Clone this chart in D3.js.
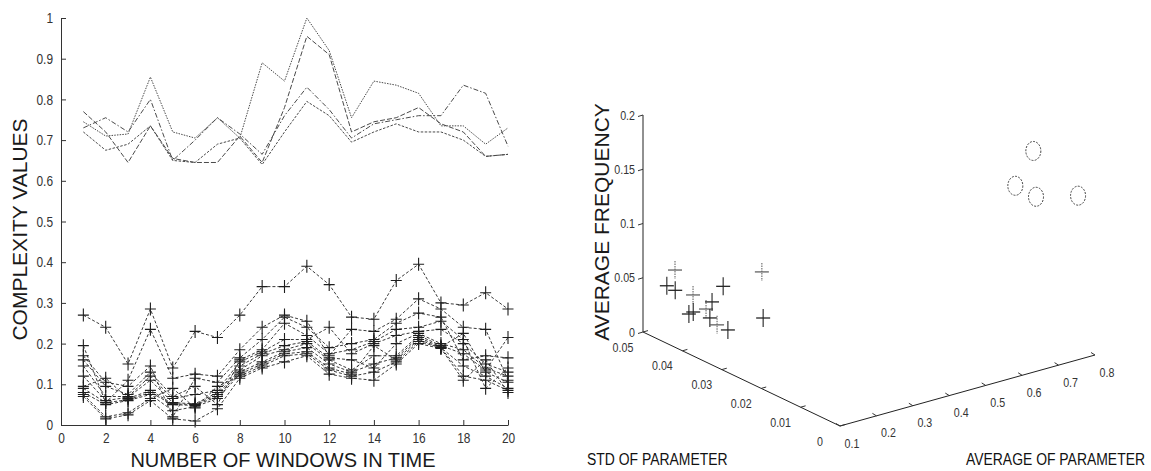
<!DOCTYPE html>
<html>
<head>
<meta charset="utf-8">
<script src="https://cdn.jsdelivr.net/npm/d3@7"></script>
<style>
  body { margin: 0; background: #fff; }
  svg { display: block; }
  .tick-label { font-family: "Liberation Sans", Arial, sans-serif; fill: #333; }
  .axis-title { font-family: "Liberation Sans", Arial, sans-serif; fill: #1a1a1a; }
</style>
</head>
<body>
<svg id="chart" width="1151" height="471"></svg>
<script>
// ---- left panel: complexity values per time window ----
const windows = [1,2,3,4,5,6,7,8,9,10,11,12,13,14,15,16,17,18,19,20];

// upper group (4 lines, no markers)
const upperA = [0.745,0.71,0.715,0.855,0.72,0.705,0.755,0.705,0.89,0.845,1.0,0.92,0.755,0.845,0.835,0.815,0.735,0.735,0.69,0.73];
const upperB = [0.77,0.72,0.645,0.735,0.655,0.645,0.645,0.71,0.645,0.78,0.955,0.91,0.72,0.745,0.755,0.78,0.74,0.72,0.66,0.665];
const upperC = [0.73,0.755,0.72,0.8,0.65,0.70,0.755,0.715,0.665,0.76,0.83,0.775,0.705,0.74,0.75,0.76,0.76,0.835,0.815,0.685];
const upperD = [0.72,0.675,0.69,0.735,0.65,0.645,0.69,0.705,0.64,0.72,0.795,0.76,0.695,0.72,0.74,0.72,0.72,0.70,0.66,0.665];

// lower group (11 lines with + markers)
const lowerA = [0.27,0.24,0.15,0.285,0.14,0.23,0.215,0.27,0.34,0.34,0.39,0.345,0.265,0.26,0.355,0.395,0.30,0.295,0.325,0.285];
const lowerB = [0.195,0.055,0.11,0.235,0.115,0.125,0.12,0.185,0.24,0.27,0.255,0.17,0.235,0.23,0.26,0.31,0.285,0.24,0.235,0.11];
const lowerC = [0.17,0.105,0.095,0.145,0.02,0.115,0.105,0.165,0.21,0.265,0.24,0.19,0.2,0.21,0.25,0.275,0.265,0.16,0.17,0.165];
const lowerD = [0.16,0.095,0.075,0.13,0.07,0.095,0.05,0.16,0.185,0.25,0.22,0.175,0.185,0.205,0.235,0.24,0.255,0.21,0.09,0.14];
const lowerE = [0.145,0.07,0.07,0.12,0.065,0.075,0.085,0.155,0.18,0.21,0.21,0.24,0.175,0.2,0.22,0.23,0.235,0.2,0.15,0.13];
const lowerF = [0.12,0.06,0.068,0.11,0.055,0.052,0.08,0.145,0.175,0.195,0.205,0.165,0.16,0.14,0.2,0.225,0.2,0.185,0.14,0.12];
const lowerG = [0.095,0.115,0.065,0.085,0.052,0.05,0.075,0.135,0.17,0.185,0.2,0.16,0.135,0.17,0.17,0.22,0.195,0.175,0.135,0.215];
const lowerH = [0.09,0.055,0.062,0.08,0.05,0.048,0.07,0.13,0.155,0.18,0.19,0.15,0.13,0.15,0.165,0.215,0.192,0.225,0.13,0.105];
const lowerI = [0.08,0.05,0.06,0.075,0.035,0.045,0.065,0.125,0.15,0.175,0.18,0.14,0.125,0.195,0.16,0.21,0.19,0.145,0.12,0.09];
const lowerJ = [0.075,0.02,0.03,0.065,0.09,0.042,0.095,0.12,0.145,0.17,0.175,0.135,0.12,0.13,0.155,0.205,0.19,0.12,0.11,0.085];
const lowerK = [0.07,0.015,0.025,0.06,0.015,0.01,0.04,0.115,0.14,0.155,0.17,0.125,0.115,0.11,0.15,0.2,0.188,0.11,0.16,0.08];

const xTicks = [0,2,4,6,8,10,12,14,16,18,20];
const yTicks = [0,0.1,0.2,0.3,0.4,0.5,0.6,0.7,0.8,0.9,1];

// ---- right panel: 3D scatter (std, average, frequency) ----
const crossStd  = [0.0465,0.0458,0.0446,0.041,0.0402,0.0428,0.0414,0.0371,0.0395,0.0349,0.0389,0.034,0.0337,0.0306];
const crossAvg  = [0.15,0.12,0.13,0.14,0.12,0.16,0.18,0.15,0.17,0.14,0.2,0.16,0.25,0.22];
const crossFreq = [0.0585,0.048,0.045,0.046,0.0317,0.0253,0.0286,0.0454,0.0246,0.029,0.052,0.024,0.0696,0.0353];

const circleStd  = [0.0138,0.0156,0.0122,0.0043];
const circleAvg  = [0.78,0.75,0.77,0.80];
const circleFreq = [0.166,0.1336,0.1275,0.1394];

const freqTicks = [0,0.05,0.1,0.15,0.2];
const stdTicks  = [0,0.01,0.02,0.03,0.04,0.05];
const avgTicks  = [0.1,0.2,0.3,0.4,0.5,0.6,0.7,0.8];

const svg = d3.select("#chart");

// ================= left panel =================
const x = d3.scaleLinear().domain([0, 20]).range([61, 508]);
const y = d3.scaleLinear().domain([0, 1]).range([425, 18]);

const line = d3.line()
  .x((d, i) => x(windows[i]))
  .y(d => y(d));

const upperLines = [upperA, upperB, upperC, upperD];
const upperDash = ["1.5,1.2", "5,2", "5,2,1.5,2", "2.5,1.5"];
svg.append("g").selectAll("path")
  .data(upperLines)
  .join("path")
  .attr("d", d => line(d))
  .attr("fill", "none")
  .attr("stroke", "#4a4a4a")
  .attr("stroke-width", 1)
  .attr("stroke-dasharray", (d, i) => upperDash[i]);

const lowerLines = [lowerA, lowerB, lowerC, lowerD, lowerE, lowerF, lowerG, lowerH, lowerI, lowerJ, lowerK];
const lowerGroup = svg.append("g");
lowerGroup.selectAll("path")
  .data(lowerLines)
  .join("path")
  .attr("d", d => line(d))
  .attr("fill", "none")
  .attr("stroke", "#3a3a3a")
  .attr("stroke-width", 1)
  .attr("stroke-dasharray", "3,2");

// + markers
lowerLines.forEach(series => {
  lowerGroup.append("g").selectAll("path")
    .data(series)
    .join("path")
    .attr("transform", (d, i) => `translate(${x(windows[i])},${y(d)})`)
    .attr("d", "M-5.5,0H5.5M0,-6.5V6.5")
    .attr("stroke", "#1e1e1e")
    .attr("stroke-width", 1.1);
});

// axes
const xAxis = d3.axisBottom(x)
  .tickValues(xTicks)
  .tickSizeInner(-5)
  .tickSizeOuter(0)
  .tickPadding(8)
  .tickFormat(d3.format("d"));
const gx = svg.append("g")
  .attr("transform", `translate(0, ${y(0)})`)
  .call(xAxis);

const yAxis = d3.axisLeft(y)
  .tickValues(yTicks)
  .tickSizeInner(-5)
  .tickSizeOuter(0)
  .tickPadding(8)
  .tickFormat(d => (d === 0 || d === 1) ? d : d.toFixed(1));
const gy = svg.append("g")
  .attr("transform", `translate(${x(0)}, 0)`)
  .call(yAxis);

[gx, gy].forEach(g => {
  g.attr("font-family", null).attr("font-size", null);
  g.selectAll("path, line").attr("stroke", "#333");
  g.selectAll("text").attr("class", "tick-label").style("font-size", "14.5px");
});

svg.append("text")
  .attr("class", "axis-title")
  .attr("transform", `translate(27, ${y(0.5) + 8}) rotate(-90)`)
  .attr("text-anchor", "middle")
  .style("font-size", "21px")
  .text("COMPLEXITY VALUES");

svg.append("text")
  .attr("class", "axis-title")
  .attr("x", 283)
  .attr("y", 467)
  .attr("text-anchor", "middle")
  .style("font-size", "20px")
  .text("NUMBER OF WINDOWS IN TIME");

// ================= right panel (oblique 3D) =================
const origin = [840, 426];
const avgX = d3.scaleLinear().domain([0.1, 0.8]).range([0, 255]);
const avgY = d3.scaleLinear().domain([0.1, 0.8]).range([0, -71]);
const stdX = d3.scaleLinear().domain([0, 0.05]).range([0, -197]);
const stdY = d3.scaleLinear().domain([0, 0.05]).range([0, -94]);
const freqY = d3.scaleLinear().domain([0, 0.2]).range([0, -217]);

const proj = (s, a, f) => [
  origin[0] + avgX(a) + stdX(s),
  origin[1] + avgY(a) + stdY(s) + freqY(f)
];

const r = svg.append("g");
const axisPath = pts => d3.line()(pts);

// frequency axis (vertical at back-left corner)
r.append("path")
  .attr("d", axisPath([proj(0.05, 0.1, 0), proj(0.05, 0.1, 0.2)]))
  .attr("stroke", "#222").attr("fill", "none");
// std axis
r.append("path")
  .attr("d", axisPath([proj(0.05, 0.1, 0), proj(0, 0.1, 0)]))
  .attr("stroke", "#222").attr("fill", "none");
// average axis
r.append("path")
  .attr("d", axisPath([proj(0, 0.1, 0), proj(0, 0.8, 0)]))
  .attr("stroke", "#222").attr("fill", "none");

// frequency ticks
freqTicks.forEach(t => {
  const p = proj(0.05, 0.1, t);
  r.append("path").attr("d", `M${p[0]},${p[1]}l-5,1.5`).attr("stroke", "#333");
  r.append("text").attr("class", "tick-label")
    .attr("x", p[0] - 8).attr("y", p[1]).attr("dy", "0.35em")
    .attr("text-anchor", "end").style("font-size", "13px")
    .text(t === 0 ? "0" : String(t));
});
// std ticks
stdTicks.forEach(t => {
  const p = proj(t, 0.1, 0);
  r.append("path").attr("d", `M${p[0]},${p[1]}l5,-1.4`).attr("stroke", "#333");
  r.append("text").attr("class", "tick-label")
    .attr("x", p[0] - 20).attr("y", p[1] + 15).attr("dy", "0.35em")
    .attr("text-anchor", "middle").style("font-size", "13px")
    .text(t === 0 ? "0" : String(t));
});
// average ticks
avgTicks.forEach(t => {
  const p = proj(0, t, 0);
  r.append("path").attr("d", `M${p[0]},${p[1]}l-4,-2.5`).attr("stroke", "#333");
  r.append("text").attr("class", "tick-label")
    .attr("x", p[0] + 12).attr("y", p[1] + 17).attr("dy", "0.35em")
    .attr("text-anchor", "middle").style("font-size", "13px")
    .text(String(t));
});

// cross markers
crossStd.forEach((s, i) => {
  const p = proj(s, crossAvg[i], crossFreq[i]);
  const faint = i % 3 === 0;
  r.append("path")
    .attr("transform", `translate(${p[0]},${p[1]})`)
    .attr("d", "M-7,0H7")
    .attr("stroke", faint ? "#555" : "#111")
    .attr("stroke-width", 1.2);
  r.append("path")
    .attr("transform", `translate(${p[0]},${p[1]})`)
    .attr("d", "M0,-9V9")
    .attr("stroke", faint ? "#666" : "#222")
    .attr("stroke-width", 1.1)
    .attr("stroke-dasharray", faint ? "1.5,1" : null);
});

// circle markers
circleStd.forEach((s, i) => {
  const p = proj(s, circleAvg[i], circleFreq[i]);
  r.append("ellipse")
    .attr("cx", p[0]).attr("cy", p[1])
    .attr("rx", 7.5).attr("ry", 9.5)
    .attr("fill", "none")
    .attr("stroke", "#444")
    .attr("stroke-width", 1)
    .attr("stroke-dasharray", "2,1.3");
});

svg.append("text")
  .attr("class", "axis-title")
  .attr("transform", `translate(609, 222) rotate(-90)`)
  .attr("text-anchor", "middle")
  .style("font-size", "21px")
  .text("AVERAGE FREQUENCY");

// the original uses a narrow face; squeeze tick labels horizontally
svg.selectAll(".tick-label").each(function () {
  const len = this.getComputedTextLength();
  d3.select(this)
    .attr("textLength", len * 0.82)
    .attr("lengthAdjust", "spacingAndGlyphs");
});

// bottom axis names of the 3D plot, narrowed with a scale transform
svg.append("text")
  .attr("class", "tick-label")
  .attr("transform", "translate(587, 465) scale(0.82, 1)")
  .style("font-size", "17px").style("fill", "#111")
  .text("STD OF PARAMETER");

svg.append("text")
  .attr("class", "tick-label")
  .attr("transform", "translate(1145, 465) scale(0.82, 1)")
  .attr("text-anchor", "end")
  .style("font-size", "17px").style("fill", "#111")
  .text("AVERAGE OF PARAMETER");
</script>
</body>
</html>
